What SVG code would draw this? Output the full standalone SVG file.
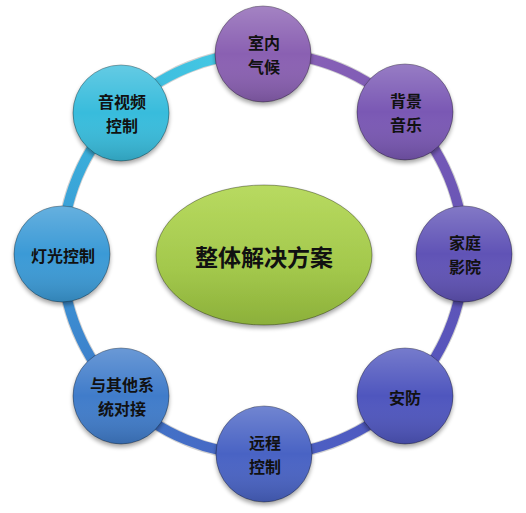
<svg xmlns="http://www.w3.org/2000/svg" width="526" height="513" viewBox="0 0 526 513">
<defs>
<style>
.lbl{font-family:"Noto Sans CJK SC","Noto Sans CJK TC",sans-serif;font-weight:bold;font-size:16px;fill:#111;text-anchor:middle;dominant-baseline:central}
.title{font-family:"Noto Sans CJK SC",sans-serif;font-weight:bold;font-size:23px;fill:#111;text-anchor:middle;dominant-baseline:central}
.ring{fill:none;stroke-width:10;stroke-linecap:butt}
.ringedge{fill:none;stroke-width:12;stroke:#000;stroke-opacity:0.18}
.node{stroke-width:1;stroke-opacity:0.35;stroke:#000;filter:url(#sh)}
</style>
<filter id="sh" x="-20%" y="-20%" width="140%" height="150%">
<feGaussianBlur in="SourceAlpha" stdDeviation="2"/>
<feOffset dx="0" dy="3" result="o"/>
<feComponentTransfer><feFuncA type="linear" slope="0.35"/></feComponentTransfer>
<feMerge><feMergeNode/><feMergeNode in="SourceGraphic"/></feMerge>
</filter>
<linearGradient id="gTop" x1="0" y1="0" x2="0" y2="1"><stop offset="0" stop-color="#fff" stop-opacity="0.22"/><stop offset="0.5" stop-color="#fff" stop-opacity="0"/><stop offset="1" stop-color="#000" stop-opacity="0.15"/></linearGradient>
<linearGradient id="gEll" x1="0" y1="0" x2="0" y2="1"><stop offset="0" stop-color="#b8da60"/><stop offset="0.6" stop-color="#a3c84c"/><stop offset="1" stop-color="#8cb03a"/></linearGradient>
<linearGradient id="s1" gradientUnits="userSpaceOnUse" x1="263" y1="53" x2="405" y2="112"><stop offset="0" stop-color="#8c62b6"/><stop offset="1" stop-color="#7c5bb6"/></linearGradient>
<linearGradient id="s2" gradientUnits="userSpaceOnUse" x1="405" y1="112" x2="464" y2="254"><stop offset="0" stop-color="#7c5bb6"/><stop offset="1" stop-color="#6354b6"/></linearGradient>
<linearGradient id="s3" gradientUnits="userSpaceOnUse" x1="464" y1="254" x2="405" y2="396"><stop offset="0" stop-color="#6354b6"/><stop offset="1" stop-color="#5256bf"/></linearGradient>
<linearGradient id="s4" gradientUnits="userSpaceOnUse" x1="405" y1="396" x2="263" y2="455"><stop offset="0" stop-color="#5256bf"/><stop offset="1" stop-color="#4a63c4"/></linearGradient>
<linearGradient id="s5" gradientUnits="userSpaceOnUse" x1="263" y1="455" x2="121" y2="396"><stop offset="0" stop-color="#4a63c4"/><stop offset="1" stop-color="#3f78c8"/></linearGradient>
<linearGradient id="s6" gradientUnits="userSpaceOnUse" x1="121" y1="396" x2="62" y2="254"><stop offset="0" stop-color="#3f78c8"/><stop offset="1" stop-color="#3a98d6"/></linearGradient>
<linearGradient id="s7" gradientUnits="userSpaceOnUse" x1="62" y1="254" x2="121" y2="112"><stop offset="0" stop-color="#3a98d6"/><stop offset="1" stop-color="#3bb8dc"/></linearGradient>
<linearGradient id="s8" gradientUnits="userSpaceOnUse" x1="121" y1="112" x2="263" y2="53"><stop offset="0" stop-color="#3bb8dc"/><stop offset="1" stop-color="#48cde6"/></linearGradient>
</defs>
<rect width="526" height="513" fill="#fff"/>
<g id="connectors">
<path class="ringedge" d="M263 53 A201 201 0 1 1 262.99 53 Z"/>
<path class="ring" stroke="url(#s1)" d="M263 53 A201 201 0 0 1 405.1 111.9"/>
<path class="ring" stroke="url(#s2)" d="M405.1 111.9 A201 201 0 0 1 464 254"/>
<path class="ring" stroke="url(#s3)" d="M464 254 A201 201 0 0 1 405.1 396.1"/>
<path class="ring" stroke="url(#s4)" d="M405.1 396.1 A201 201 0 0 1 263 455"/>
<path class="ring" stroke="url(#s5)" d="M263 455 A201 201 0 0 1 120.9 396.1"/>
<path class="ring" stroke="url(#s6)" d="M120.9 396.1 A201 201 0 0 1 62 254"/>
<path class="ring" stroke="url(#s7)" d="M62 254 A201 201 0 0 1 120.9 111.9"/>
<path class="ring" stroke="url(#s8)" d="M120.9 111.9 A201 201 0 0 1 263 53"/>
</g>
<g id="center">
<ellipse cx="264" cy="255" rx="108" ry="70" fill="url(#gEll)" class="node"/>
<text class="title" x="264" y="256">整体解决方案</text>
</g>
<g id="n1">
<circle cx="263" cy="54" r="48" fill="#8a60b2" class="node"/><circle cx="263" cy="54" r="48" fill="url(#gTop)"/>
<text class="lbl" x="264" y="42">室内</text><text class="lbl" x="264" y="66">气候</text>
</g>
<g id="n2">
<circle cx="405" cy="112" r="48" fill="#7a58b4" class="node"/><circle cx="405" cy="112" r="48" fill="url(#gTop)"/>
<text class="lbl" x="406" y="100">背景</text><text class="lbl" x="406" y="124">音乐</text>
</g>
<g id="n3">
<circle cx="464" cy="254" r="48" fill="#6052b6" class="node"/><circle cx="464" cy="254" r="48" fill="url(#gTop)"/>
<text class="lbl" x="465" y="242">家庭</text><text class="lbl" x="465" y="266">影院</text>
</g>
<g id="n4">
<circle cx="405" cy="396" r="48" fill="#5056be" class="node"/><circle cx="405" cy="396" r="48" fill="url(#gTop)"/>
<text class="lbl" x="405" y="397">安防</text>
</g>
<g id="n5">
<circle cx="264" cy="454" r="48" fill="#4a64c4" class="node"/><circle cx="264" cy="454" r="48" fill="url(#gTop)"/>
<text class="lbl" x="265" y="442">远程</text><text class="lbl" x="265" y="466">控制</text>
</g>
<g id="n6">
<circle cx="121" cy="396" r="48" fill="#3f7cca" class="node"/><circle cx="121" cy="396" r="48" fill="url(#gTop)"/>
<text class="lbl" x="122" y="384">与其他系</text><text class="lbl" x="122" y="408">统对接</text>
</g>
<g id="n7">
<circle cx="62" cy="254" r="48" fill="#3a9ad6" class="node"/><circle cx="62" cy="254" r="48" fill="url(#gTop)"/>
<text class="lbl" x="63" y="255">灯光控制</text>
</g>
<g id="n8">
<circle cx="121" cy="113" r="48" fill="#38bcdc" class="node"/><circle cx="121" cy="113" r="48" fill="url(#gTop)"/>
<text class="lbl" x="122" y="101">音视频</text><text class="lbl" x="122" y="125">控制</text>
</g>
</svg>
